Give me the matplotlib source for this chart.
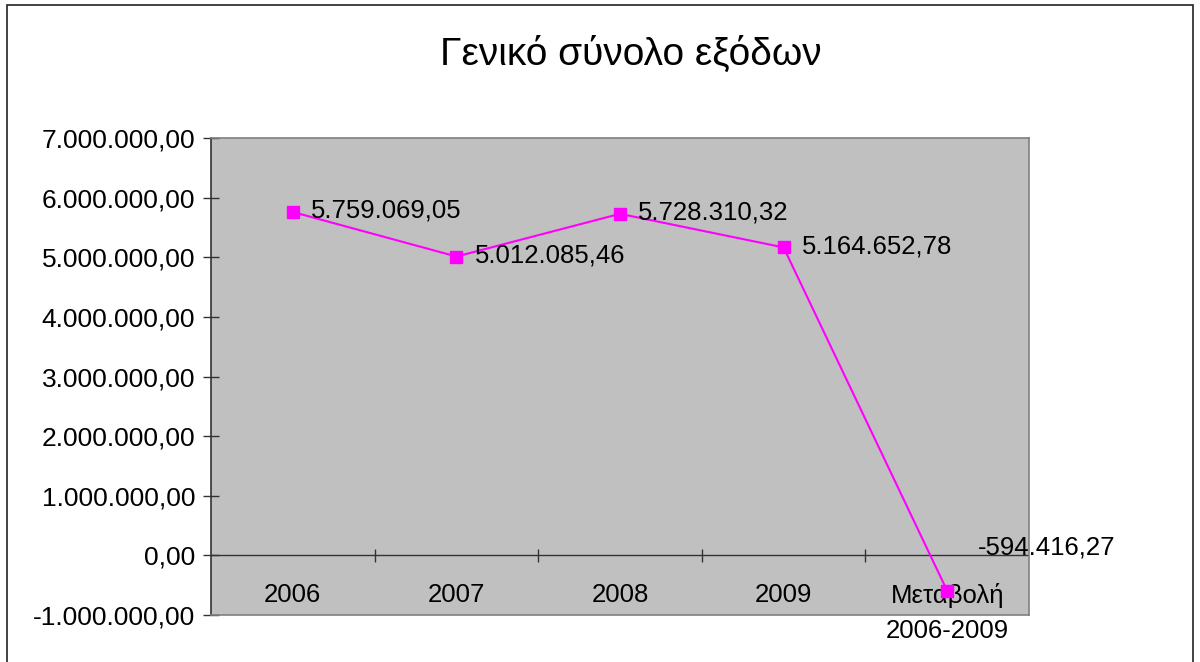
import matplotlib.pyplot as plt
from matplotlib.patches import Rectangle
from matplotlib.ticker import FuncFormatter

plt.rcParams['font.family'] = ['Liberation Sans', 'DejaVu Sans']

categories = ['2006', '2007', '2008', '2009', 'Μεταβολή\n2006-2009']
values = [5759069.05, 5012085.46, 5728310.32, 5164652.78, -594416.27]
yticks = [-1000000, 0, 1000000, 2000000, 3000000, 4000000, 5000000, 6000000, 7000000]
title = 'Γενικό σύνολο εξόδων'


def gr_fmt(v, pos=None):
    s = '{:,.2f}'.format(v)
    return s.replace(',', 'X').replace('.', ',').replace('X', '.')


fig = plt.figure(figsize=(12, 6.62), dpi=100)
fig.patches.append(Rectangle((7 / 1200, -0.01), 1186 / 1200, 1 - 5 / 662 + 0.01,
                             transform=fig.transFigure, fill=False,
                             edgecolor='#222222', linewidth=1.2))
fig.text(631 / 1200, 1 - 54 / 662, title, ha='center', va='center', fontsize=28)

ax = fig.add_axes([211 / 1200, 1 - 615 / 662, 818 / 1200, 477 / 662])
ax.set_facecolor('#C0C0C0')
for s in ['top', 'right', 'bottom']:
    ax.spines[s].set_color('#808080')
    ax.spines[s].set_linewidth(1.2)
ax.spines['left'].set_color('#333333')
ax.spines['left'].set_linewidth(1.2)

x = list(range(len(categories)))
ax.set_xlim(-0.5, len(categories) - 0.5)
ax.set_ylim(-1000000, 7000000)

ax.axhline(0, color='#333333', linewidth=1)
ax.vlines([i + 0.5 for i in x[:-1]], -110000, 110000, color='#333333', linewidth=1)

ax.plot(x, values, color='#FF00FF', linewidth=1.5, marker='s', markersize=8.5,
        markerfacecolor='#FF00FF', markeredgecolor='#FF00FF', clip_on=False, zorder=3)

for i, v in enumerate(values):
    if i == len(values) - 1:
        off = (22, 31)
    else:
        off = (13, 1)
    ax.annotate(gr_fmt(v), (i, v), xytext=off, textcoords='offset points',
                ha='left', va='center', fontsize=18.5, annotation_clip=False, zorder=4)

ax.set_yticks(yticks)
ax.yaxis.set_major_formatter(FuncFormatter(gr_fmt))
ax.tick_params(axis='y', direction='inout', length=11, width=1, color='#333333',
               labelsize=19, pad=6)

ax.set_xticks(x)
ax.set_xticklabels(categories, linespacing=1.6)
ax.tick_params(axis='x', length=0, labelsize=18.5, pad=-23)

fig.savefig('out.png', dpi=100)
